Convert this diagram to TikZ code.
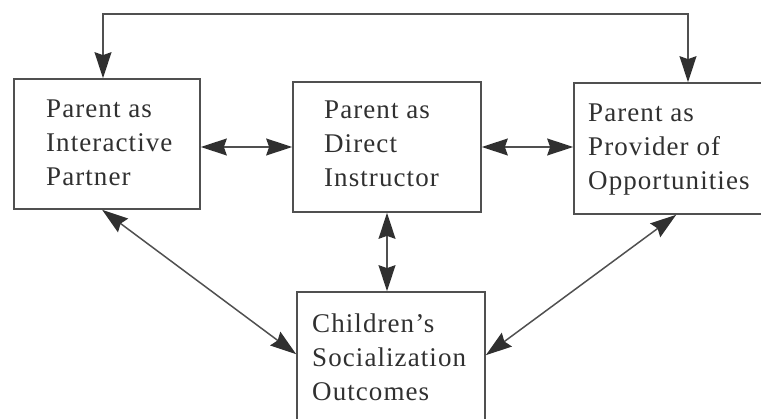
\documentclass[tikz,border=0pt]{standalone}
\usepackage{fontspec}
\setmainfont{Liberation Serif}[LetterSpace=4]
\usetikzlibrary{arrows.meta,calc}
\definecolor{inkline}{HTML}{505050}
\definecolor{inktext}{HTML}{303030}
\tikzset{
  boxnode/.style={draw=inkline, line width=1.7pt, rectangle, inner sep=0pt, fill=none},
  labeltext/.style={anchor=west, align=left, inner sep=0pt, text=inktext,
                    font=\fontsize{27}{34}\selectfont},
  arr/.style={draw=inkline, line width=1.5pt,
              {Stealth[length=26pt,width=17pt,inset=3pt,color=inktext]}-{Stealth[length=26pt,width=17pt,inset=3pt,color=inktext]}}
}
\begin{document}
\begin{tikzpicture}[x=1pt,y=-1pt]
\useasboundingbox (0,0) rectangle (761,419);
\clip (0,0) rectangle (761,419);
% boxes
\node[boxnode, minimum width=186pt, minimum height=130pt] (L) at (107,144) {};
\node[boxnode, minimum width=188pt, minimum height=130pt] (M) at (387,147) {};
\node[boxnode, minimum width=188pt, minimum height=131pt] (R) at (668,148.5) {};
\node[boxnode, minimum width=188pt, minimum height=133pt] (B) at (391,358.5) {};
% texts
\node[labeltext] (Lt) at (46,143) {Parent as\\Interactive\\Partner};
\node[labeltext] (Mt) at (324,144) {Parent as\\Direct\\Instructor};
\node[labeltext] (Rt) at (588,150) {Parent as\\Provider of\\Opportunities};
\node[labeltext] (Bt) at (312,357) {Children's\\Socialization\\Outcomes};
% top connector
\coordinate (tl) at (103,14);
\coordinate (tr) at (688,14);
\draw[arr] (tl |- L.north) -- (tl) -- (tr) -- (tr |- R.north);
% horizontal
\draw[arr] (L.east |- M.west) -- (M.west);
\draw[arr] (M.east) -- (M.east -| R.west);
% vertical
\draw[arr] (M.south) -- (M.south |- B.north);
% diagonals
\coordinate (d1) at ([xshift=89pt]L.south west);
\coordinate (d2) at ([yshift=-63pt]B.north west);
\coordinate (d3) at ([xshift=103pt]R.south west);
\coordinate (d4) at ([yshift=-64pt]B.north east);
\draw[arr] (d1) -- (d2);
\draw[arr] (d3) -- (d4);
\end{tikzpicture}
\end{document}
